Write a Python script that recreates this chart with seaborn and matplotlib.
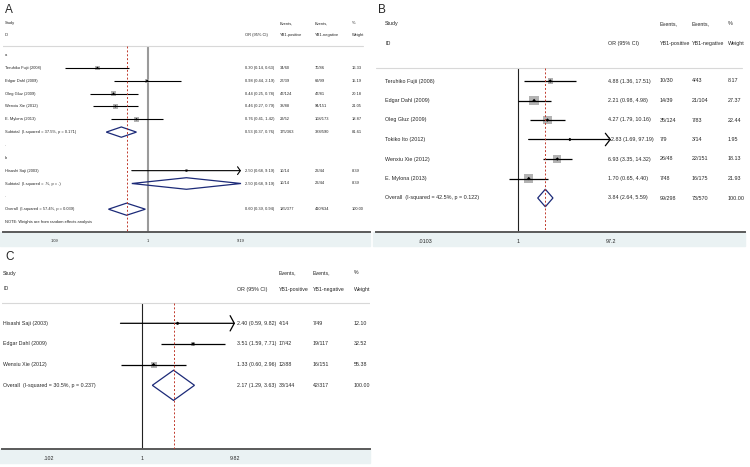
import numpy as np
import matplotlib
matplotlib.use("Agg")
import matplotlib.pyplot as plt
import seaborn as sns
from matplotlib.patches import Polygon, Rectangle
from matplotlib.ticker import NullLocator
from matplotlib.transforms import blended_transform_factory

# ---- panel A data (subgroups a / b)
studies_a = ["Teruhiko Fujii (2008)", "Edgar Dahl (2009)", "Oleg Gluz (2009)",
             "Wenxiu Xie (2012)", "E. Mylona (2013)"]
or_a = [0.30, 0.98, 0.44, 0.46, 0.76]
lo_a = [0.14, 0.44, 0.25, 0.27, 0.41]
hi_a = [0.63, 2.19, 0.78, 0.79, 1.42]
pos_a = ["34/60", "27/39", "47/124", "38/88", "29/52"]
neg_a = ["70/86", "69/99", "47/81", "94/151", "108/173"]
wt_a = [16.33, 15.19, 20.18, 21.05, 18.87]
sub_a = [0.53, 0.37, 0.76, "175/363", "388/590", "81.61", "Subtotal  (I-squared = 37.5%, p = 0.171)"]

studies_a2 = ["Hisashi Saji (2003)"]
or_a2 = [2.50]
lo_a2 = [0.68]
hi_a2 = [9.19]
pos_a2 = ["10/14"]
neg_a2 = ["22/44"]
wt_a2 = [8.39]
sub_a2 = [2.50, 0.68, 9.19, "10/14", "22/44", "8.39", "Subtotal  (I-squared = .%, p = .)"]
overall_a = [0.60, 0.39, 0.94, "185/377", "410/634", "100.00", "Overall  (I-squared = 57.4%, p = 0.039)"]
ticks_a = [0.109, 1, 9.19]
ticklabels_a = [".109", "1", "9.19"]

# ---- panel B data
studies_b = ["Teruhiko Fujii (2008)", "Edgar Dahl (2009)", "Oleg Gluz (2009)",
             "Tokiko Ito (2012)", "Wenxiu Xie (2012)", "E. Mylona (2013)"]
or_b = [4.88, 2.21, 4.27, 12.83, 6.93, 1.70]
lo_b = [1.36, 0.98, 1.79, 1.69, 3.35, 0.65]
hi_b = [17.51, 4.98, 10.16, 97.19, 14.32, 4.40]
pos_b = ["10/30", "14/39", "35/124", "7/9", "26/48", "7/48"]
neg_b = ["4/43", "21/104", "7/83", "3/14", "22/151", "16/175"]
wt_b = [8.17, 27.37, 22.44, 1.95, 18.13, 21.93]
overall_b = [3.84, 2.64, 5.59, "99/298", "73/570", "100.00", "Overall  (I-squared = 42.5%, p = 0.122)"]
ticks_b = [0.0103, 1, 97.2]
ticklabels_b = [".0103", "1", "97.2"]

# ---- panel C data
studies_c = ["Hisashi Saji (2003)", "Edgar Dahl (2009)", "Wenxiu Xie (2012)"]
or_c = [2.40, 3.51, 1.33]
lo_c = [0.59, 1.59, 0.60]
hi_c = [9.82, 7.71, 2.96]
pos_c = ["4/14", "17/42", "12/88"]
neg_c = ["7/49", "19/117", "16/151"]
wt_c = [12.10, 32.52, 55.38]
overall_c = [2.17, 1.29, 3.63, "33/144", "42/317", "100.00", "Overall  (I-squared = 30.5%, p = 0.237)"]
ticks_c = [0.102, 1, 9.82]
ticklabels_c = [".102", "1", "9.82"]

sns.set_style("white")
plt.rcParams["font.family"] = ["Liberation Sans", "DejaVu Sans"]

W, H = 750, 467
fig = plt.figure(figsize=(7.5, 4.67), dpi=100)
NAVY = "#1c2a78"
RED = "#c0392b"
BAND = "#eaf2f3"


def make_panel(x0, x1, y0, y1, ticks, tick_px, labels, row0, step, fs):
    ax = fig.add_axes([x0 / W, 1 - y1 / H, (x1 - x0) / W, (y1 - y0) / H])
    ax.patch.set_alpha(0)
    ax.set_xscale("log")
    k = np.log(ticks[-1] / ticks[0]) / (tick_px[1] - tick_px[0])
    ax.set_xlim(ticks[0] * np.exp((x0 - tick_px[0]) * k),
                ticks[-1] * np.exp((x1 - tick_px[1]) * k))
    ax.set_ylim((y1 - row0) / step, (y0 - row0) / step)
    ax.set_xticks(ticks, labels)
    ax.xaxis.set_minor_locator(NullLocator())
    ax.set_yticks([])
    for s in ["top", "left", "right"]:
        ax.spines[s].set_visible(False)
    ax.spines["bottom"].set_color("#5a5a5a")
    ax.spines["bottom"].set_linewidth(1.4)
    ax.tick_params(axis="x", length=3, width=0.7, color="#5a5a5a",
                   labelsize=fs, pad=2)
    fig.patches.append(Rectangle(((x0 - 3) / W, 1 - (y1 + 14) / H), (x1 - x0 + 3) / W,
                                 14 / H, transform=fig.transFigure,
                                 color=BAND, zorder=-5))
    ax.row = lambda py: (py - row0) / step
    ax.blend = blended_transform_factory(fig.transFigure, ax.transData)
    return ax


def put(ax, px, row, s, fs, **kw):
    ax.text(px / W, row, s, transform=ax.blend, fontsize=fs,
            va="center", ha="left", **kw)


def header(ax, cols, study_py, id_py, sep_py, sep_x, letter, letter_px, letter_py, fs):
    r_s, r_i, r_sep = ax.row(study_py), ax.row(id_py), ax.row(sep_py)
    put(ax, letter_px, ax.row(letter_py), letter, 8.5)
    put(ax, cols[0], r_s, "Study", fs)
    put(ax, cols[0], r_i, "ID", fs)
    put(ax, cols[1], r_i, "OR (95% CI)", fs)
    put(ax, cols[2], r_s, "Events,", fs)
    put(ax, cols[2], r_i, "YB1-positive", fs)
    put(ax, cols[3], r_s, "Events,", fs)
    put(ax, cols[3], r_i, "YB1-negative", fs)
    put(ax, cols[4], r_s, "%", fs)
    put(ax, cols[4], r_i, "Weight", fs)
    ax.plot([sep_x[0] / W, sep_x[1] / W], [r_sep, r_sep], transform=ax.blend,
            color="#d8d8d8", lw=0.8)
    return r_sep


def studies(ax, rows, names, est, lo, hi, pos, neg, wt, cols, fs, tick_hi,
            box_k, dot_s, lw, head):
    rows = np.asarray(rows, dtype=float)
    for r, n, e, l, h, p, q, w in zip(rows, names, est, lo, hi, pos, neg, wt):
        if h >= tick_hi * 0.99:
            ax.annotate("", xy=(h, r), xytext=(l, r),
                        arrowprops=dict(arrowstyle="->, head_length=%.2f, head_width=%.2f" % head,
                                        lw=lw, color="black", shrinkA=0, shrinkB=0))
        else:
            ax.hlines(r, l, h, color="black", lw=lw, zorder=3)
        put(ax, cols[0], r, n, fs)
        put(ax, cols[1], r, "%.2f (%.2f, %.2f)" % (e, l, h), fs)
        put(ax, cols[2], r, p, fs)
        put(ax, cols[3], r, q, fs)
        put(ax, cols[4], r, "%.2f" % w, fs)
    sns.scatterplot(x=est, y=rows, s=np.asarray(wt) * box_k, marker="s",
                    color="#b3b3b3", edgecolor="none", legend=False, ax=ax, zorder=2)
    sns.scatterplot(x=est, y=rows, s=dot_s, marker="D", color="black",
                    edgecolor="none", legend=False, ax=ax, zorder=4)


def diamond(ax, r, summ, cols, fs, half_h):
    e, l, h = summ[0], summ[1], summ[2]
    ax.add_patch(Polygon([(l, r), (e, r - half_h), (h, r), (e, r + half_h)],
                         closed=True, facecolor="none", edgecolor=NAVY, lw=0.9, zorder=5))
    put(ax, cols[0], r, summ[6], fs)
    put(ax, cols[1], r, "%.2f (%.2f, %.2f)" % (e, l, h), fs)
    put(ax, cols[2], r, summ[3], fs)
    put(ax, cols[3], r, summ[4], fs)
    put(ax, cols[4], r, summ[5], fs)


def ref_lines(ax, r_sep, overall, null_color, null_lw):
    bottom = ax.get_ylim()[0]
    ax.vlines(1, r_sep, bottom, color=null_color, lw=null_lw, zorder=1)
    ax.vlines(overall, r_sep, bottom, color=RED, lw=0.7,
              linestyles=(0, (2, 2)), zorder=6)


# ---------------- Panel A
fsA = 2.9
colsA = [5, 245, 280, 315, 352]
axA = make_panel(3, 370, 0, 232, ticks_a, (55, 241), ticklabels_a, 55, 12.85, fsA)
sepA = header(axA, colsA, 23.3, 35, 45.7, (0, 363), "A", 5, 10, fsA)
put(axA, colsA[0], 0, "a", fsA)
studies(axA, range(1, 6), studies_a, or_a, lo_a, hi_a, pos_a, neg_a, wt_a,
        colsA, fsA, ticks_a[-1], 0.57, 1.5, 0.8, (0.2, 0.28))
diamond(axA, 6, sub_a, colsA, fsA, 0.4)
put(axA, colsA[0], 7, ".", fsA)
put(axA, colsA[0], 8, "b", fsA)
studies(axA, [9], studies_a2, or_a2, lo_a2, hi_a2, pos_a2, neg_a2, wt_a2,
        colsA, fsA, ticks_a[-1], 0.57, 1.5, 0.8, (0.2, 0.28))
diamond(axA, 10, sub_a2, colsA, fsA, 0.45)
put(axA, colsA[0], 11, ".", fsA)
diamond(axA, 12, overall_a, colsA, fsA, 0.47)
put(axA, colsA[0], 13, "NOTE: Weights are from random effects analysis", fsA)
ref_lines(axA, sepA, overall_a[0], "#9a9a9a", 1.5)

# ---------------- Panel B
fsB = 3.9
colsB = [385, 608, 660, 692, 728]
axB = make_panel(376, 745, 0, 232, ticks_b, (425, 611), ticklabels_b, 81, 19.5, fsB)
sepB = header(axB, colsB, 23.3, 43.3, 67.7, (376, 742), "B", 378, 10, fsB)
studies(axB, range(0, 6), studies_b, or_b, lo_b, hi_b, pos_b, neg_b, wt_b,
        colsB, fsB, ticks_b[-1], 1.85, 3, 0.9, (0.35, 0.45))
diamond(axB, 6, overall_b, colsB, fsB, 0.45)
ref_lines(axB, sepB, overall_b[0], "#222222", 0.8)

# ---------------- Panel C
fsC = 3.8
colsC = [3, 237, 279, 313, 354]
axC = make_panel(2, 370, 245, 449, ticks_c, (49, 235), ticklabels_c, 323.3, 20.67, fsC)
sepC = header(axC, colsC, 273, 289, 302.7, (0, 370), "C", 5, 256.7, fsC)
studies(axC, range(0, 3), studies_c, or_c, lo_c, hi_c, pos_c, neg_c, wt_c,
        colsC, fsC, ticks_c[-1], 0.33, 3, 0.9, (0.3, 0.55))
diamond(axC, 3, overall_c, colsC, fsC, 0.73)
ref_lines(axC, sepC, overall_c[0], "#222222", 0.8)

fig.savefig("out.png", dpi=100)
